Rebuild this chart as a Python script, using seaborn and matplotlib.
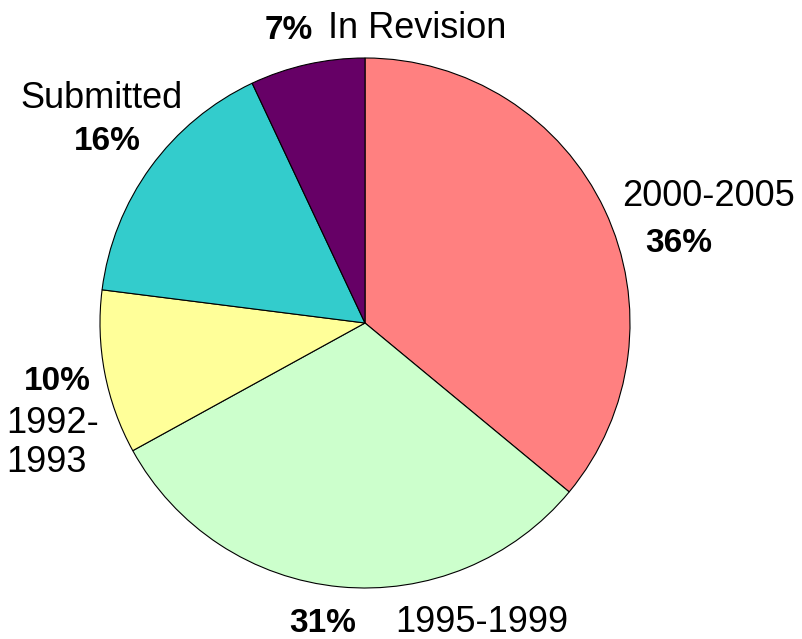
import matplotlib
matplotlib.use("Agg")
import matplotlib.pyplot as plt
import seaborn as sns

# data (clockwise from 12 o'clock)
categories = ["2000-2005", "1995-1999", "1992-1993", "Submitted", "In Revision"]
shares = [36, 31, 10, 16, 7]
colors = ["#FF8080", "#CCFFCC", "#FFFF99", "#33CCCC", "#660066"]

sns.set_theme(style="white")
plt.rcParams["font.family"] = ["Liberation Sans", "DejaVu Sans"]

W, H = 802, 639
CX, CY, R = 365, 323, 265   # pie centre and radius in pixels

fig = plt.figure(figsize=(W / 100, H / 100), dpi=100)
ax = fig.add_axes([0, 0, 1, 1])
ax.pie(shares, colors=colors, startangle=90, counterclock=False, radius=1,
       wedgeprops=dict(edgecolor="black", linewidth=0.8))
ax.set_xlim(-CX / R, (W - CX) / R)
ax.set_ylim(-(H - CY) / R, CY / R)
ax.set_aspect("equal")
ax.axis("off")


def px(x, y):
    return (x - CX) / R, (CY - y) / R


pct = [f"{s}%" for s in shares]

# label layout: (text, x px, baseline y px, horizontal align, bold)
layout = [
    (pct[4], 289, 39, "center", True),
    ("In Revision", 417, 38, "center", False),
    ("Submitted", 101, 108, "center", False),
    (pct[3], 107, 150, "center", True),
    (categories[0], 709, 206, "center", False),
    (pct[0], 679, 252, "center", True),
    (pct[2], 57, 390, "center", True),
    ("1992-", 6, 433, "left", False),
    ("1993", 6, 472, "left", False),
    (pct[1], 323, 632, "center", True),
    (categories[1], 482, 632, "center", False),
]
for text, x, y, ha, bold in layout:
    ax.text(*px(x, y), text, ha=ha, va="baseline",
            fontsize=24 if bold else 26,
            fontweight="bold" if bold else "normal", color="black")

fig.savefig("out.png", dpi=100, facecolor="white")
